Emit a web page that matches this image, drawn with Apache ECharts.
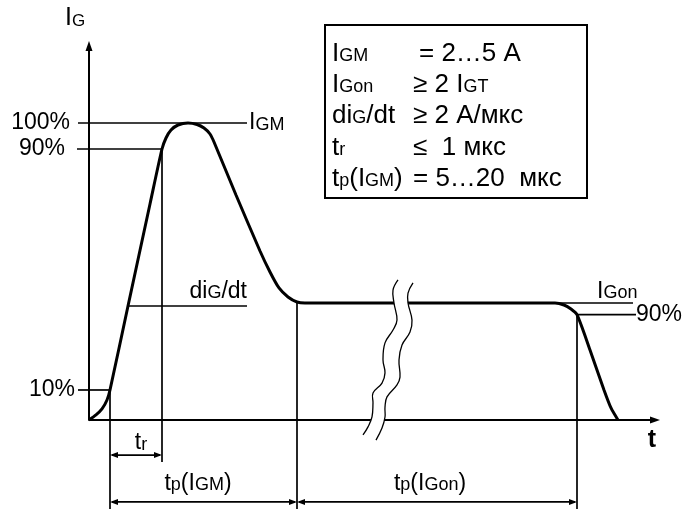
<!DOCTYPE html>
<html><head><meta charset="utf-8">
<script src="https://cdn.jsdelivr.net/npm/echarts@6/dist/echarts.min.js"></script>
<style>html,body{margin:0;padding:0;background:#fff}#c{width:687px;height:509px}</style>
</head><body><div id="c"></div>
<script>
// ---- data (x: time, arbitrary units; y: gate current level, % of I_GM) ----
const pulseX = [0,0.7,1.3,1.8,2.1,3.9,6.1,7.3,7.7,8.2,8.9,9.9,10.8,11.5,12.1,12.5,14.7,17.1,18.1,19.0,19.9,20.8,21.6,31.1,46.6,47.5,48.2,48.8,50.1,51.5,52.2,52.9];
const pulseY = [0,1.67,3.67,6.67,10,38,72,90.33,94,96.67,98.33,99,98.5,97.33,95.33,92.67,75,56.33,49.33,44,41,39.33,39,39,39,38.33,37,35.1,23.33,10,4,0];

// characteristic levels
const levelIGM = 99, level90 = 90.33, level10 = 10, levelDidt = 38, levelIGon = 39, levelOff90 = 35.1;
// characteristic times
const tStart = 2.1, tRise = 7.3, tPlateau = 20.8, tEnd = 48.8;

// axis-break wavy lines
const breakAX = [30.9,30.4,30.5,30.8,30.4,29.6,29.4,29.6,29.3,28.4,28.4,28.3,27.9,27.4];
const breakAY = [46.7,43.3,39,33.3,30,25.7,20,15.7,12.3,9,5.7,1,-2.3,-5];
const breakBX = [32.4,31.9,31.9,32.3,32.1,31.3,31.0,31.1,30.8,29.8,29.6,29.6,29.3,28.7];
const breakBY = [45.7,42.3,39,33.3,29.3,25,20,14.3,11.7,7.7,4.3,1,-2.7,-6.7];

// texts
const levelLabels = ['100%', '90%', '10%'];
const boxLeft = ['{B|I}{S|GM}', '{B|I}{S|Gon}', '{B|di}{S|G}{B|/dt}', '{B|t}{S|r}', '{B|t}{S|p}{B|(I}{S|GM}{B|)}'];
const boxRight = ['{B|= 2…5 А}', '{B|≥ 2 I}{S|GT}', '{B|≥ 2 А/мкс}', '{B|≤  1 мкс}', '{B|= 5…20  мкс}'];

// ---- layout ----
const xMax = 56.6, yMin = -29.67, yMax = 126.33;
const FONT = "'Liberation Sans', Arial, Helvetica, sans-serif";
function tok(size, h, bold) {
  return {fontSize: size, fontFamily: FONT, fill: '#000', height: h, verticalAlign: 'bottom', fontWeight: bold ? 'bold' : 'normal'};
}
const rich = {
  b: tok(23, 23), s: tok(18, 19.9),
  B: tok(26, 26), S: tok(18, 21),
  L: tok(25, 25), l: tok(17, 20),
  T: tok(25, 25, true)
};

const guideSegs = [
  [-1.1, levelIGM, 15.8, levelIGM],
  [-1.2, level90, tRise, level90],
  [-1.1, level10, tStart, level10],
  [3.9, levelDidt, 15.8, levelDidt],
  [46.6, levelIGon, 54.4, levelIGon],
  [tEnd, levelOff90, 54.7, levelOff90],
  [tRise, level90, tRise, -14],
  [tStart, level10, tStart, yMin],
  [tPlateau, levelIGon, tPlateau, yMin],
  [tEnd, levelOff90, tEnd, yMin]
];
const dimSegs = [[tStart, tRise, -11.7], [tStart, tPlateau, -27.3], [tPlateau, tEnd, -27.3]];

const labels = [
  {t: '{b|' + levelLabels[0] + '}', x: -1.9, y: levelIGM, a: 'right'},
  {t: '{b|' + levelLabels[1] + '}', x: -2.4, y: level90, a: 'right'},
  {t: '{b|' + levelLabels[2] + '}', x: -1.4, y: level10, a: 'right'},
  {t: '{b|I}{s|GM}', x: 16.0, y: levelIGM, a: 'left'},
  {t: '{b|di}{s|G}{b|/dt}', x: 15.8, y: 42.7, a: 'right'},
  {t: '{b|I}{s|Gon}', x: 50.8, y: 42.7, a: 'left'},
  {t: '{b|' + levelLabels[1] + '}', x: 54.7, y: levelOff90, a: 'left'},
  {t: '{b|t}{s|r}', x: 5.2, y: -7.7, a: 'center'},
  {t: '{b|t}{s|p}{b|(I}{s|GM}{b|)}', x: 10.9, y: -21.3, a: 'center'},
  {t: '{b|t}{s|p}{b|(I}{s|Gon}{b|)}', x: 34.1, y: -21.3, a: 'center'},
  {t: '{T|t}', x: 56.3, y: -6.7, a: 'center'},
  {t: '{L|I}{l|G}', x: -2.4, y: 133.8, a: 'left'}
];

const chart = echarts.init(document.getElementById('c'));

const boxGraphics = [{
  type: 'rect', shape: {x: 325, y: 25, width: 262, height: 173},
  style: {fill: '#fff', stroke: '#000', lineWidth: 2}, z: 10
}];
const boxRowY = [54, 85, 116, 148, 179];
const boxRightX = [419, 413, 413, 413, 413];
boxLeft.forEach((t, i) => {
  boxGraphics.push({type: 'text', x: 332, y: boxRowY[i], z: 11,
    style: {text: t, rich: rich, align: 'left', verticalAlign: 'middle'}});
  boxGraphics.push({type: 'text', x: boxRightX[i], y: boxRowY[i], z: 11,
    style: {text: boxRight[i], rich: rich, align: 'left', verticalAlign: 'middle'}});
});

chart.setOption({
  animation: false,
  backgroundColor: '#fff',
  grid: {left: 89, right: 32, top: 41, bottom: 0, containLabel: false},
  xAxis: {
    type: 'value', min: 0, max: xMax,
    axisLine: {show: true, onZero: true, symbol: ['none', 'triangle'], symbolSize: [7, 10],
      lineStyle: {color: '#000', width: 2}},
    axisTick: {show: false}, axisLabel: {show: false}, splitLine: {show: false}
  },
  yAxis: {
    type: 'value', min: yMin, max: yMax,
    axisLine: {show: false}, axisTick: {show: false}, axisLabel: {show: false}, splitLine: {show: false}
  },
  graphic: boxGraphics,
  series: [
    {
      type: 'custom', name: 'yaxis', silent: true, z: 3,
      data: [[0, 0, yMax]],
      renderItem: function (params, api) {
        const p0 = api.coord([api.value(0), api.value(1)]);
        const p1 = api.coord([api.value(0), api.value(2)]);
        return {type: 'group', children: [
          {type: 'line', shape: {x1: p0[0], y1: p0[1], x2: p1[0], y2: p1[1] + 8}, style: {stroke: '#000', lineWidth: 2}},
          {type: 'polygon', shape: {points: [[p1[0], p1[1]], [p1[0] - 3.5, p1[1] + 10], [p1[0] + 3.5, p1[1] + 10]]}, style: {fill: '#000'}}
        ]};
      }
    },
    {
      type: 'custom', name: 'guides', silent: true, z: 3,
      encode: {x: [0, 2], y: [1, 3]},
      data: guideSegs,
      renderItem: function (params, api) {
        const a = api.coord([api.value(0), api.value(1)]);
        const b = api.coord([api.value(2), api.value(3)]);
        return {type: 'line', shape: {x1: a[0], y1: a[1], x2: b[0], y2: b[1]}, style: {stroke: '#000', lineWidth: 1.7}};
      }
    },
    {
      type: 'custom', name: 'dims', silent: true, z: 3,
      encode: {x: [0, 1], y: 2},
      data: dimSegs,
      renderItem: function (params, api) {
        const a = api.coord([api.value(0), api.value(2)]);
        const b = api.coord([api.value(1), api.value(2)]);
        const L = 8, H = 3;
        return {type: 'group', children: [
          {type: 'line', shape: {x1: a[0] + 2, y1: a[1], x2: b[0] - 2, y2: b[1]}, style: {stroke: '#000', lineWidth: 1.7}},
          {type: 'polygon', shape: {points: [[a[0], a[1]], [a[0] + L, a[1] - H], [a[0] + L, a[1] + H]]}, style: {fill: '#000'}},
          {type: 'polygon', shape: {points: [[b[0], b[1]], [b[0] - L, b[1] - H], [b[0] - L, b[1] + H]]}, style: {fill: '#000'}}
        ]};
      }
    },
    {
      type: 'line', name: 'I_G', z: 4,
      data: pulseX.map((x, i) => [x, pulseY[i]]),
      showSymbol: false, smooth: 0.25, clip: false, silent: true,
      lineStyle: {color: '#000', width: 3}
    },
    {
      type: 'custom', name: 'break', silent: true, z: 5,
      data: [[breakAX[0], breakAY[0]]],
      renderItem: function (params, api) {
        const A = breakAX.map((x, i) => api.coord([x, breakAY[i]]));
        const B = breakBX.map((x, i) => api.coord([x, breakBY[i]]));
        const poly = A.concat(B.slice().reverse());
        return {type: 'group', children: [
          {type: 'polygon', shape: {points: poly, smooth: 0}, style: {fill: '#fff', stroke: null}},
          {type: 'polyline', shape: {points: A, smooth: 0.4}, style: {stroke: '#000', lineWidth: 1.3, fill: null}},
          {type: 'polyline', shape: {points: B, smooth: 0.4}, style: {stroke: '#000', lineWidth: 1.3, fill: null}}
        ]};
      }
    },
    {
      type: 'custom', name: 'labels', silent: true, z: 6,
      data: labels.map(l => [l.x, l.y]),
      renderItem: function (params, api) {
        const p = api.coord([api.value(0), api.value(1)]);
        const l = labels[params.dataIndex];
        return {type: 'text', x: p[0], y: p[1],
          style: {text: l.t, rich: rich, align: l.a, verticalAlign: 'middle', fill: '#000'}};
      }
    }
  ]
});
</script></body></html>
